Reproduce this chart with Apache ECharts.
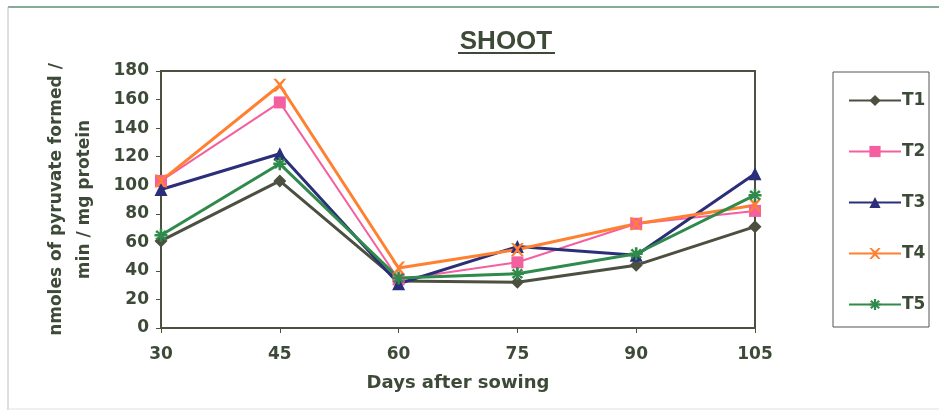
<!DOCTYPE html>
<html><head><meta charset="utf-8">
<script src="https://cdn.jsdelivr.net/npm/echarts@6/dist/echarts.min.js"></script>
<style>html,body{margin:0;padding:0;background:#fff}#c{width:939px;height:413px}</style>
</head><body><div id="c"></div>
<script>
const categories = ['30','45','60','75','90','105'];
const T1 = [61, 103, 33, 32, 44, 71];
const T2 = [103, 158, 34, 46, 73, 82];
const T3 = [97, 122, 31, 57, 51, 108];
const T4 = [103, 170, 42, 55, 73, 86];
const T5 = [65, 115, 35, 38, 52, 93];
const names = ['T1','T2','T3','T4','T5'];
const titleText = 'SHOOT';
const colors = ['#4b5040','#f4609f','#2b2e78','#ff8030','#2f8a4c'];
const xPath = 'path://M0,0 L2,0 L5,3 L8,0 L10,0 L6,5 L10,10 L8,10 L5,7 L2,10 L0,10 L4,5 Z';
const starPath = 'path://M4,0 L6,0 L6,3 L8,1 L9.5,2.5 L7,4 L10,4 L10,6 L7,6 L9.5,7.5 L8,9 L6,7 L6,10 L4,10 L4,7 L2,9 L0.5,7.5 L3,6 L0,6 L0,4 L3,4 L0.5,2.5 L2,1 L4,3 Z';
const symbols = ['diamond','rect','triangle',xPath,starPath];
const sizes = [13,12,13,13,13];
const data = [T1,T2,T3,T4,T5];
const textColor = '#3d4a37';
const font = 'DejaVu Sans';
const chart = echarts.init(document.getElementById('c'));
chart.setOption({
  animation:false,
  graphic:[
    {type:'text',x:506,y:29,style:{text:titleText,align:'center',verticalAlign:'top',fontFamily:'Liberation Sans',fontWeight:'bold',fontSize:26,fill:textColor}},
    {type:'line',shape:{x1:458,y1:53,x2:555,y2:53},style:{stroke:textColor,lineWidth:2}},
    {type:'rect',shape:{x:833,y:72,width:96,height:255},style:{fill:'none',stroke:'#555',lineWidth:1}},
    {type:'line',shape:{x1:8,y1:7,x2:939,y2:7},style:{stroke:'#5f8f70',lineWidth:1.5}},
    {type:'line',shape:{x1:8,y1:7,x2:8,y2:410},style:{stroke:'#b8c0bc',lineWidth:1}},
    {type:'line',shape:{x1:8,y1:409,x2:939,y2:409},style:{stroke:'#dde2df',lineWidth:1}}
  ],
  grid:{left:161,right:184,top:71,bottom:85,show:true,borderColor:'#4b5040',borderWidth:2},
  legend:{orient:'vertical',left:843,top:87,itemWidth:52,itemHeight:14,itemGap:34,data:names,
    textStyle:{fontFamily:font,fontWeight:'bold',fontSize:17,color:textColor,padding:[0,0,0,-4]}},
  xAxis:{type:'category',data:categories,boundaryGap:false,
    name:'Days after sowing',nameLocation:'middle',nameGap:46,
    nameTextStyle:{fontFamily:font,fontWeight:'bold',fontSize:18,color:textColor},
    axisLine:{lineStyle:{color:'#4b5040',width:2}},
    axisTick:{inside:false,length:5,lineStyle:{color:'#4b5040'}},
    axisLabel:{fontFamily:font,fontWeight:'bold',fontSize:17,color:textColor,margin:18},
    splitLine:{show:false}},
  yAxis:{type:'value',min:0,max:180,interval:20,
    name:'nmoles of pyruvate formed /\nmin / mg protein',nameLocation:'middle',nameGap:62,
    nameTextStyle:{fontFamily:font,fontWeight:'bold',fontSize:17,color:textColor,lineHeight:28},
    axisLine:{show:true,lineStyle:{color:'#4b5040',width:2}},
    axisTick:{show:true,length:5,lineStyle:{color:'#4b5040'}},
    axisLabel:{fontFamily:font,fontWeight:'bold',fontSize:17,color:textColor,margin:12},
    splitLine:{show:false}},
  series:data.map((d,i)=>({name:names[i],type:'line',data:d,symbol:symbols[i],symbolSize:sizes[i],
    itemStyle:{color:colors[i]},lineStyle:{color:colors[i],width:i===1?2:3}}))
});
</script></body></html>
